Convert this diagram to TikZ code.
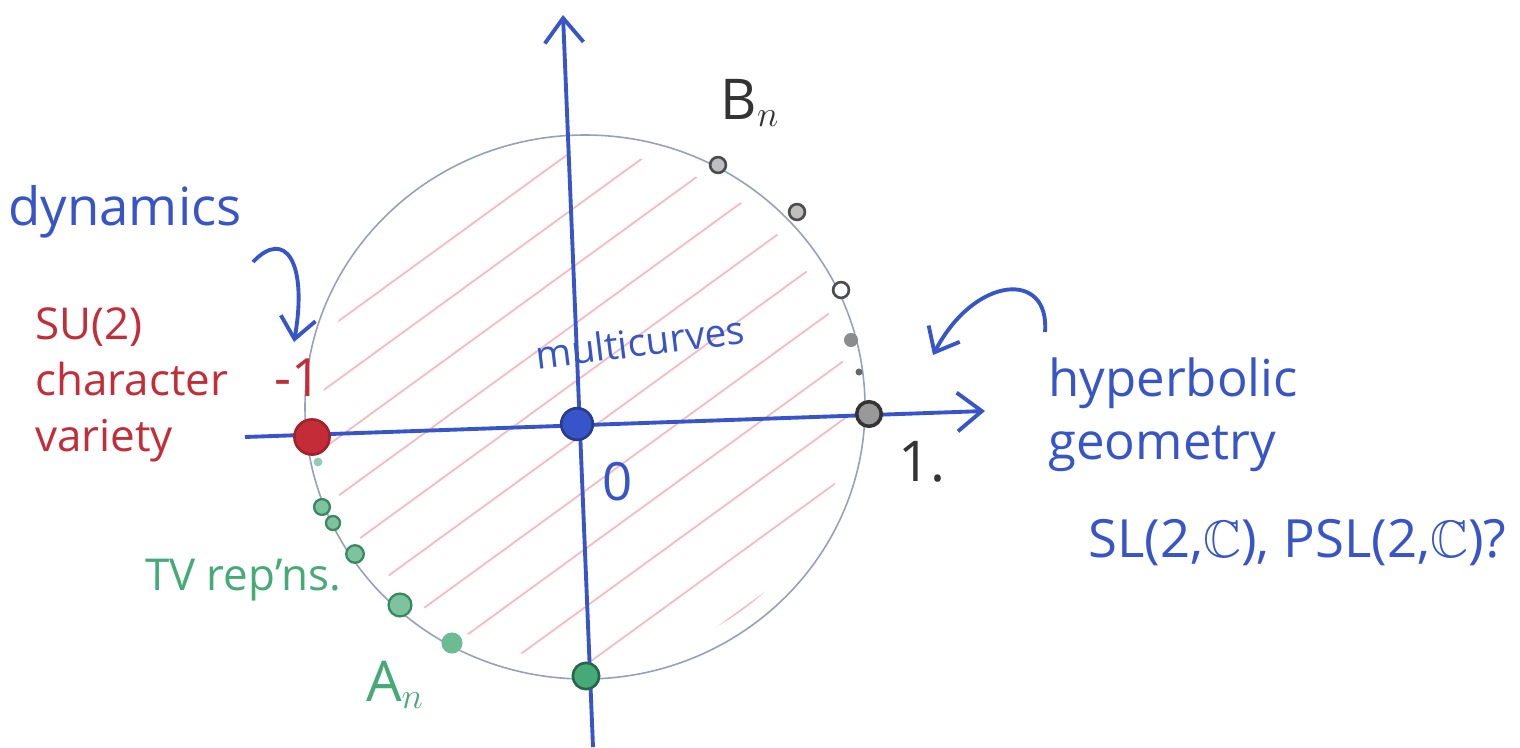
\documentclass[tikz,border=0pt]{standalone}
\usepackage{fontspec}
\usepackage{amssymb}
\setmainfont{Open Sans}
\usetikzlibrary{arrows.meta}
\definecolor{hblue}{RGB}{55,85,200}
\definecolor{hred}{RGB}{196,45,55}
\definecolor{hgreen}{RGB}{70,170,120}
\definecolor{hpink}{RGB}{240,140,150}
\definecolor{hgrey}{RGB}{150,160,185}
\tikzset{
  axis/.style={hblue, line width=2.2pt, -{Straight Barb[length=14pt,width=22pt,line width=2.2pt]}},
  curvy/.style={hblue, line width=2.2pt, -{Straight Barb[length=12pt,width=20pt,line width=2.2pt]}},
  lbl/.style={inner sep=0pt, anchor=center},
  blk/.style={lbl, black!80},
  bdot/.style={circle, draw=black!70, fill=black!25, line width=1.5pt, inner sep=0pt, minimum size=9pt},
  gdot/.style={circle, draw=hgreen!80!black, fill=hgreen!70, line width=1.3pt, inner sep=0pt, minimum size=10pt},
}
\begin{document}
\begin{tikzpicture}[x=0.02cm, y=-0.02cm]
\useasboundingbox (0,0) rectangle (1520,747);
\fill[white] (0,0) rectangle (1520,747);
% hatching
\begin{scope}
  \clip (585,407) ellipse [x radius=262, y radius=254];
  \foreach \c in {-720,-640,...,900}
    \draw[hpink!60, line width=1pt] (\c,800) -- ++(1100,-800);
\end{scope}
% disk boundary
\draw[hgrey, line width=0.9pt] (585,407) ellipse [x radius=280, y radius=272];
% axes
\coordinate (xl) at (245,437);
\coordinate (xr) at (985,411);
\coordinate (yb) at (593,747);
\coordinate (yt) at (563,15);
\draw[axis] (xl) -- (xr);
\draw[axis] (yb) -- (yt);
% main dots
\node[circle, draw=hred!80!black, fill=hred, line width=1.5pt, inner sep=0pt, minimum size=20pt] (m1) at (312,437) {};
\node[circle, draw=hblue!70!black, fill=hblue, line width=1.5pt, inner sep=0pt, minimum size=18pt] (o) at (577,424) {};
\node[circle, draw=black!80, fill=black!40, line width=2pt, inner sep=0pt, minimum size=14pt] (p1) at (869,414) {};
% B_n dots
\node[bdot] (b1) at (718,165) {};
\node[bdot] (b2) at (797,212) {};
\node[bdot, fill=white] (b3) at (841,290) {};
\node[circle, fill=black!45, inner sep=0pt, minimum size=8pt] (b4) at (851,340) {};
\node[circle, fill=black!60, inner sep=0pt, minimum size=4pt] (b5) at (859,372) {};
% A_n dots
\node[circle, fill=hgreen!60, inner sep=0pt, minimum size=5pt] (a0) at (318,462) {};
\node[gdot, minimum size=9pt] (a1) at (322,507) {};
\node[gdot, minimum size=8pt] (a2) at (333,523) {};
\node[gdot] (a3) at (355,554) {};
\node[gdot, minimum size=13pt] (a4) at (400,605) {};
\node[circle, fill=hgreen!80, inner sep=0pt, minimum size=12pt] (a5) at (452,643) {};
\node[circle, draw=hgreen!60!black, fill=hgreen, line width=1.5pt, inner sep=0pt, minimum size=15pt] (a6) at (586,676) {};
% labels
\node[lbl, hred, font=\fontsize{30}{30}\selectfont] (lm1) at (298,378) {-1};
\node[lbl, hblue, font=\fontsize{30}{30}\selectfont] (l0) at (618,482) {0};
\node[blk, font=\fontsize{32}{32}\selectfont] (l1) at (922,462) {1.};
\node[blk, font=\fontsize{32}{32}\selectfont] (lb) at (750,103) {B$_n$};
\node[lbl, hgreen, font=\fontsize{32}{32}\selectfont] (la) at (395,685) {A$_n$};
\node[lbl, hgreen, font=\fontsize{25}{25}\selectfont] (ltv) at (243,580) {TV rep'ns.};
\node[lbl, hblue, font=\fontsize{22}{22}\selectfont, rotate=7] (lmc) at (640,342) {multicurves};
\node[lbl, hblue, font=\fontsize{30}{30}\selectfont] (ldyn) at (125,212) {dynamics};
\node[lbl, hred, font=\fontsize{25}{32}\selectfont, align=left, anchor=west] (lsu) at (35,385) {SU(2)\\character\\variety};
\node[lbl, hblue, font=\fontsize{29}{36}\selectfont, align=left, anchor=west] (lhyp) at (1048,415) {hyperbolic\\geometry};
\node[lbl, hblue, font=\fontsize{30}{30}\selectfont, anchor=west] (lsl) at (1088,543) {SL(2,$\mathbb{C}$), PSL(2,$\mathbb{C}$)?};
% curved arrows
\coordinate (d0) at (253,262);
\coordinate (d1) at (294,342);
\draw[curvy] (d0) .. controls (285,228) and (308,262) .. (d1);
\coordinate (h0) at (1045,332);
\coordinate (h1) at (933,355);
\draw[curvy] (h0) .. controls (1050,270) and (975,275) .. (h1);
\end{tikzpicture}
\end{document}
